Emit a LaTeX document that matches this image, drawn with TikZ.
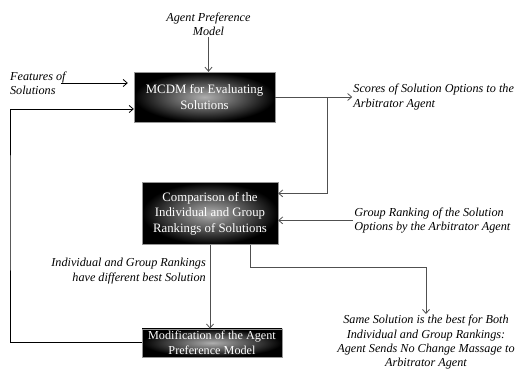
\documentclass[tikz,border=0pt]{standalone}
\usepackage{fontspec}
\setmainfont{Liberation Serif}
\usepackage{tikz}
\usetikzlibrary{arrows.meta,positioning,calc}
\usepackage{xcolor}
\definecolor{cLine}{RGB}{80,80,80}
\definecolor{cGlow}{RGB}{175,175,175}
\definecolor{cEdge}{RGB}{150,150,150}
\tikzset{
  darkbox/.style={rectangle,draw=cEdge,line width=0.4pt,shading=radial,
                  inner color=cGlow,outer color=black,text=white,align=center,
                  inner sep=0pt,font=\fontsize{12.8}{15.5}\selectfont},
  lbl/.style={inner sep=1pt,font=\fontsize{12.2}{14.3}\selectfont\itshape},
  arr/.style={-{Straight Barb[length=4pt,width=7pt]},line width=0.8pt,color=cLine},
  blkarr/.style={-{Straight Barb[length=4pt,width=7pt]},line width=0.8pt,color=black}
}
\begin{document}
\begin{tikzpicture}[x=1pt,y=-1pt]
  \useasboundingbox (0,0) rectangle (522,375);

  \node[darkbox,minimum width=141pt,minimum height=50pt] (mcdm) at (204.5,97)
      {MCDM for Evaluating\\Solutions};
  \node[darkbox,minimum width=136pt,minimum height=62pt,
        below=60pt of mcdm,xshift=5.5pt] (comp)
      {Comparison of the\\Individual and Group\\Rankings of Solutions};
  \node[darkbox,minimum width=140pt,minimum height=28pt,
        font=\fontsize{12.2}{14.5}\selectfont,
        below=84pt of comp,xshift=2pt] (mod)
      {Modification of the Agent\\Preference Model};

  \node[lbl,align=center,above=35pt of mcdm,xshift=4pt] (apm)
      {Agent Preference\\Model};
  \node[lbl,align=left,left=67pt of mcdm,yshift=14pt] (feat)
      {Features of\\Solutions};
  \node[lbl,align=left,right=77pt of mcdm] (scores)
      {Scores of Solution Options to the\\Arbitrator Agent};
  \node[lbl,align=left,right=75pt of comp,yshift=-7pt] (grp)
      {Group Ranking of the Solution\\Options by the Arbitrator Agent};
  \node[lbl,align=right,anchor=east] (diffl) at (207,271)
      {Individual and Group Rankings\\have different best Solution};
  \node[lbl,align=center,anchor=north] (same) at (426,314)
      {Same Solution is the best for Both\\Individual and Group Rankings:\\
       Agent Sends No Change Massage to\\Arbitrator Agent};

  \coordinate (brn) at (327,97);
  \coordinate (fbk) at (10,200);

  \draw[arr] (apm.south) -- (apm.south |- mcdm.north);
  \draw[blkarr] ([xshift=-6pt]feat.east) -- ([xshift=-6pt]feat.east -| mcdm.west);
  \draw[arr] (mcdm.east) -- (scores.west);
  \draw[arr] (brn) |- ([yshift=20pt]comp.east);
  \draw[arr] (grp.west) -- (grp.west -| comp.east);
  \draw[arr] (comp.south) -- (comp.south |- mod.north);
  \draw[arr] ([xshift=40pt]comp.south) -- ++(0,23) -| (same.north);
  \draw[blkarr] (mod.west) -| (fbk) |- ([yshift=-12pt]mcdm.west);

\end{tikzpicture}
\end{document}
